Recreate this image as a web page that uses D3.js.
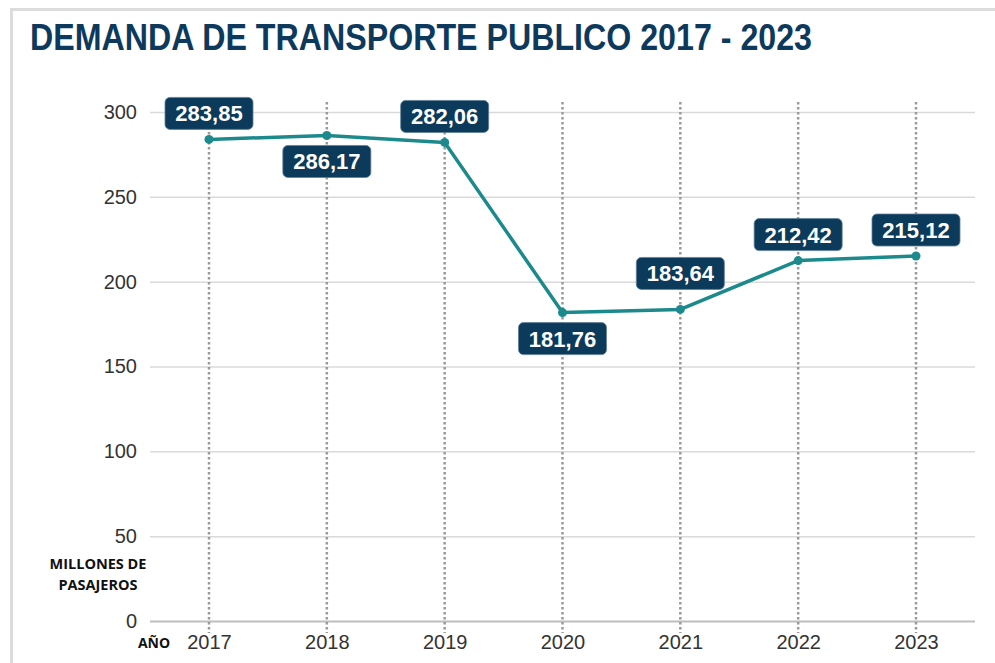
<!DOCTYPE html>
<html>
<head>
<meta charset="utf-8">
<script src="https://cdn.jsdelivr.net/npm/d3@7"></script>
<style>
  body { margin: 0; background: #fff; }
  svg { display: block; }
</style>
</head>
<body>
<div id="chart"></div>
<script>
// data
const years = ["2017", "2018", "2019", "2020", "2021", "2022", "2023"];
const demand = [283.85, 286.17, 282.06, 181.76, 183.64, 212.42, 215.12];
const labelSide = ["above", "below", "above", "below", "above", "above", "above"];
const yTicks = [0, 50, 100, 150, 200, 250, 300];

const W = 995, H = 663;
const plotLeft = 150, plotRight = 975, plotTop = 112, plotBottom = 621;

const svg = d3.select("#chart").append("svg")
  .attr("width", W)
  .attr("height", H);

// frame (only top and left edges show)
svg.append("line").attr("x1", 10).attr("x2", W).attr("y1", 9.5).attr("y2", 9.5)
  .attr("stroke", "#dcdcdc").attr("stroke-width", 3);
svg.append("line").attr("x1", 11.5).attr("x2", 11.5).attr("y1", 8).attr("y2", H)
  .attr("stroke", "#dcdcdc").attr("stroke-width", 3);

// title
svg.append("text")
  .attr("x", 30).attr("y", 50)
  .attr("textLength", 782).attr("lengthAdjust", "spacingAndGlyphs")
  .style("font-family", "'Liberation Sans Narrow', 'Arial Narrow', 'Liberation Sans', Arial, sans-serif")
  .style("font-weight", "bold").style("font-size", "36px")
  .attr("fill", "#0d3a5c")
  .text("DEMANDA DE TRANSPORTE PUBLICO 2017 - 2023");

const x = d3.scalePoint().domain(years).range([209, 916]);
const y = d3.scaleLinear().domain([0, 300]).range([plotBottom, plotTop]);

// y axis with gridlines
const yAxis = svg.append("g")
  .attr("transform", `translate(${plotLeft},0)`)
  .call(d3.axisLeft(y).tickValues(yTicks).tickSize(-(plotRight - plotLeft)).tickPadding(13));
yAxis.select(".domain").remove();
yAxis.selectAll(".tick line").attr("stroke", "#dadada").attr("stroke-width", 1.5);
yAxis.selectAll(".tick").filter(d => d === 0).select("line")
  .attr("stroke", "#bdbdbd").attr("stroke-width", 2);
yAxis.selectAll("text")
  .style("font-family", "'Liberation Sans', Arial, sans-serif")
  .style("font-size", "20px").attr("fill", "#333");

// dotted vertical lines
svg.append("g").selectAll("line")
  .data(years)
  .enter()
  .append("line")
  .attr("x1", d => x(d)).attr("x2", d => x(d))
  .attr("y1", 102).attr("y2", 633)
  .attr("stroke", "#9a9a9a").attr("stroke-width", 2.5)
  .attr("stroke-dasharray", "2.5,2.5");

// x axis
const xAxis = svg.append("g")
  .attr("transform", `translate(0,${plotBottom})`)
  .call(d3.axisBottom(x).tickSize(0).tickPadding(14));
xAxis.select(".domain").remove();
xAxis.selectAll("text")
  .style("font-family", "'Liberation Sans', Arial, sans-serif")
  .style("font-size", "20px").attr("fill", "#333");

// axis captions
const capFont = "'Open Sans', 'Noto Sans', sans-serif";
svg.append("text").attr("x", 154).attr("y", 648).attr("text-anchor", "middle")
  .style("font-family", capFont).style("font-weight", "bold").style("font-size", "14px")
  .attr("fill", "#111").text("AÑO");
svg.append("text").attr("x", 98).attr("y", 569).attr("text-anchor", "middle")
  .style("font-family", capFont).style("font-weight", "bold").style("font-size", "14.5px")
  .attr("fill", "#111").text("MILLONES DE");
svg.append("text").attr("x", 98).attr("y", 590).attr("text-anchor", "middle")
  .style("font-family", capFont).style("font-weight", "bold").style("font-size", "14.5px")
  .attr("fill", "#111").text("PASAJEROS");

// line
const pts = years.map((yr, i) => ({ year: yr, value: demand[i], side: labelSide[i] }));
svg.append("path")
  .datum(pts)
  .attr("fill", "none")
  .attr("stroke", "#1c8a8c")
  .attr("stroke-width", 3.5)
  .attr("stroke-linejoin", "round")
  .attr("d", d3.line().x(d => x(d.year)).y(d => y(d.value)));

svg.append("g").selectAll("circle")
  .data(pts)
  .enter()
  .append("circle")
  .attr("cx", d => x(d.year))
  .attr("cy", d => y(d.value))
  .attr("r", 4.5)
  .attr("fill", "#1c8a8c");

// value labels
const fmt = v => v.toFixed(2).replace(".", ",");
const boxW = 88, boxH = 32, gap = 10;
// 2021 label sits higher so it clears the rising segment
const extraGap = { "2021": 10 };
const lab = svg.append("g").selectAll("g")
  .data(pts)
  .enter()
  .append("g")
  .attr("transform", d => {
    const g = gap + (extraGap[d.year] || 0);
    const cy = d.side === "above" ? y(d.value) - g - boxH / 2 : y(d.value) + g + boxH / 2;
    return `translate(${x(d.year)},${cy})`;
  });
lab.append("rect")
  .attr("x", -boxW / 2).attr("y", -boxH / 2)
  .attr("width", boxW).attr("height", boxH)
  .attr("rx", 5)
  .attr("fill", "#0b3a5a")
  .attr("stroke", "#5f7f98").attr("stroke-width", 0.8);
lab.append("text")
  .attr("text-anchor", "middle")
  .attr("dy", "0.36em")
  .style("font-family", "'Liberation Sans', Arial, sans-serif")
  .style("font-weight", "bold").style("font-size", "22px")
  .attr("fill", "#fff")
  .text(d => fmt(d.value));
</script>
</body>
</html>
